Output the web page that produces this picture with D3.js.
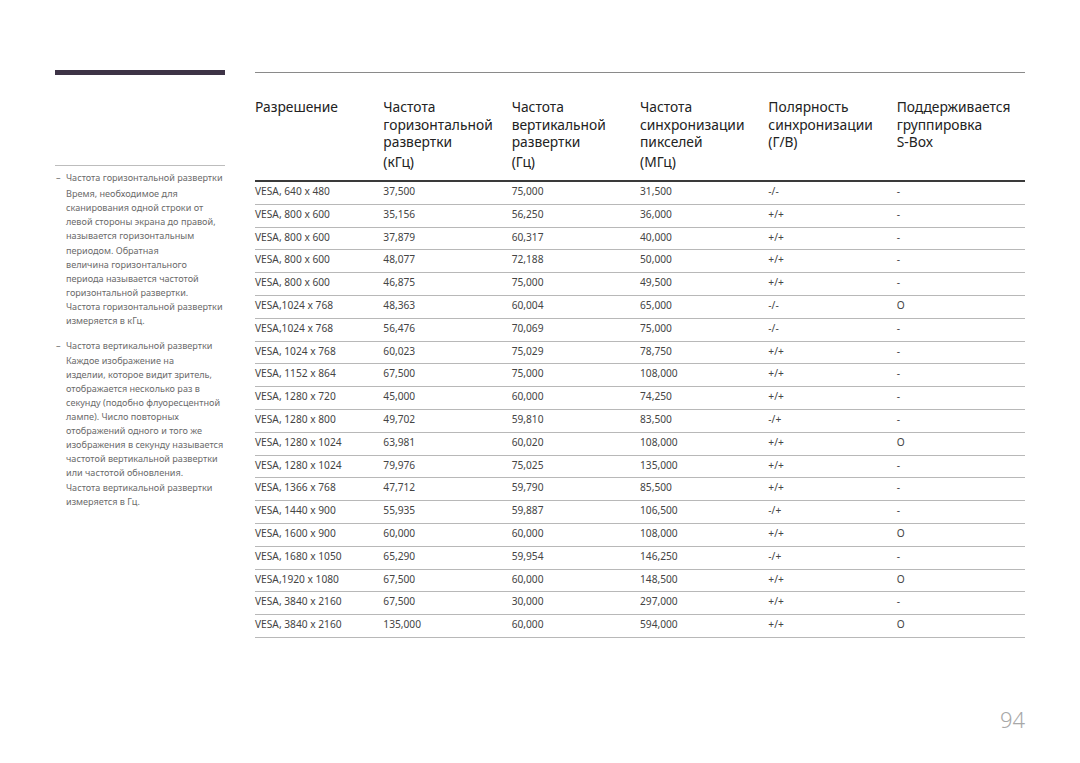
<!DOCTYPE html>
<html>
<head>
<meta charset="utf-8">
<script src="https://cdn.jsdelivr.net/npm/d3@7"></script>
<style>
  body { margin: 0; background: #fff; }
  svg { display: block; font-family: "Noto Sans", "Open Sans", sans-serif; }
</style>
</head>
<body>
<div id="chart"></div>
<script>
// table data
const resolutions = [
  "VESA, 640 x 480", "VESA, 800 x 600", "VESA, 800 x 600", "VESA, 800 x 600",
  "VESA, 800 x 600", "VESA,1024 x 768", "VESA,1024 x 768", "VESA, 1024 x 768",
  "VESA, 1152 x 864", "VESA, 1280 x 720", "VESA, 1280 x 800", "VESA, 1280 x 1024",
  "VESA, 1280 x 1024", "VESA, 1366 x 768", "VESA, 1440 x 900", "VESA, 1600 x 900",
  "VESA, 1680 x 1050", "VESA,1920 x 1080", "VESA, 3840 x 2160", "VESA, 3840 x 2160"
];
const hFreq = ["37,500", "35,156", "37,879", "48,077", "46,875", "48,363", "56,476", "60,023",
  "67,500", "45,000", "49,702", "63,981", "79,976", "47,712", "55,935", "60,000",
  "65,290", "67,500", "67,500", "135,000"];
const vFreq = ["75,000", "56,250", "60,317", "72,188", "75,000", "60,004", "70,069", "75,029",
  "75,000", "60,000", "59,810", "60,020", "75,025", "59,790", "59,887", "60,000",
  "59,954", "60,000", "30,000", "60,000"];
const pixClock = ["31,500", "36,000", "40,000", "50,000", "49,500", "65,000", "75,000", "78,750",
  "108,000", "74,250", "83,500", "108,000", "135,000", "85,500", "106,500", "108,000",
  "146,250", "148,500", "297,000", "594,000"];
const polarity = ["-/-", "+/+", "+/+", "+/+", "+/+", "-/-", "-/-", "+/+",
  "+/+", "+/+", "-/+", "+/+", "+/+", "+/+", "-/+", "+/+",
  "-/+", "+/+", "+/+", "+/+"];
const sbox = ["-", "-", "-", "-", "-", "O", "-", "-",
  "-", "-", "-", "O", "-", "-", "-", "O",
  "-", "O", "-", "O"];

const headers = [
  ["Разрешение"],
  ["Частота", "горизонтальной", "развертки", "(кГц)"],
  ["Частота", "вертикальной", "развертки", "(Гц)"],
  ["Частота", "синхронизации", "пикселей", "(МГц)"],
  ["Полярность", "синхронизации", "(Г/В)"],
  ["Поддерживается", "группировка", "S-Box"]
];

const notes = [
  ["Частота горизонтальной развертки", "Время, необходимое для", "сканирования одной строки от",
   "левой стороны экрана до правой,", "называется горизонтальным", "периодом. Обратная",
   "величина горизонтального", "периода называется частотой", "горизонтальной развертки.",
   "Частота горизонтальной развертки", "измеряется в кГц."],
  ["Частота вертикальной развертки", "Каждое изображение на", "изделии, которое видит зритель,",
   "отображается несколько раз в", "секунду (подобно флуоресцентной", "лампе). Число повторных",
   "отображений одного и того же", "изображения в секунду называется", "частотой вертикальной развертки",
   "или частотой обновления.", "Частота вертикальной развертки", "измеряется в Гц."]
];
const pageNumber = "94";

const width = 1080, height = 763;
const svg = d3.select("#chart").append("svg").attr("width", width).attr("height", height);

const rows = resolutions.map((r, i) => [r, hFreq[i], vFreq[i], pixClock[i], polarity[i], sbox[i]]);

const x = d3.scaleBand().domain(d3.range(headers.length)).range([255, 1025]).paddingInner(0);
const y = d3.scaleBand().domain(d3.range(rows.length)).range([181, 637]);

// left sidebar
svg.append("rect").attr("x", 55).attr("y", 70).attr("width", 170).attr("height", 5).attr("fill", "#3d3346");
svg.append("line").attr("x1", 55).attr("x2", 225).attr("y1", 165.5).attr("y2", 165.5)
  .attr("stroke", "#bdbdbd").attr("stroke-width", 1);

const noteTop = [181, 349];
notes.forEach((block, b) => {
  const g = svg.append("g").attr("fill", "#6b6b6b").attr("font-size", 9.1);
  g.append("text").attr("x", 56).attr("y", noteTop[b]).text("–");
  g.selectAll("text.l").data(block).join("text").attr("class", "l")
    .attr("x", 66)
    .attr("y", (d, i) => noteTop[b] + (i === 0 ? 0 : (b === 0 ? 2 : 0.5) + i * 14.1))
    .text(d => d);
});

// top rule
svg.append("line").attr("x1", 255).attr("x2", 1025).attr("y1", 72.5).attr("y2", 72.5)
  .attr("stroke", "#8a8a8a").attr("stroke-width", 1);

// header
const hg = svg.append("g").attr("fill", "#222").attr("font-size", 13.8);
headers.forEach((lines, c) => {
  hg.selectAll(null).data(lines).join("text")
    .attr("x", x(c))
    .attr("y", (d, i) => 112 + i * 17.5 + (i === 3 ? 2.5 : 0))
    .text(d => d);
});

// row separators
svg.append("g").selectAll("line").data(d3.range(rows.length)).join("line")
  .attr("x1", 255).attr("x2", 1025)
  .attr("y1", i => Math.round(y(i) + y.bandwidth()) + 0.5)
  .attr("y2", i => Math.round(y(i) + y.bandwidth()) + 0.5)
  .attr("stroke", "#b8b8b8").attr("stroke-width", 1);

svg.append("line").attr("x1", 255).attr("x2", 1025).attr("y1", 181).attr("y2", 181)
  .attr("stroke", "#3a3a3a").attr("stroke-width", 2);

// cells
const body = svg.append("g").attr("fill", "#444").attr("font-size", 10.2);
body.selectAll("g").data(rows).join("g")
  .attr("transform", (d, i) => `translate(0,${y(i) + 14})`)
  .selectAll("text").data(d => d).join("text")
  .attr("x", (d, c) => x(c))
  .text(d => d);

// page number
svg.append("text").attr("x", 1025).attr("y", 728).attr("text-anchor", "end")
  .attr("font-size", 22).attr("fill", "#a8a8a8").attr("font-weight", 300).text(pageNumber);
</script>
</body>
</html>
